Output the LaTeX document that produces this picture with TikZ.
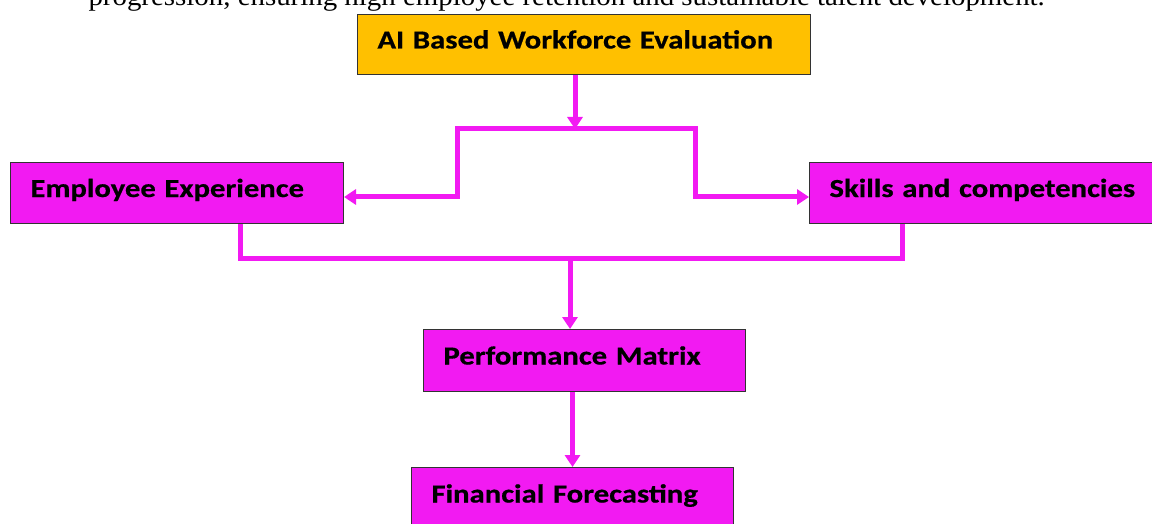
\documentclass[tikz,border=0pt]{standalone}
\usepackage{fontspec}
\setmainfont{Liberation Serif}[FakeStretch=1.07]
\newfontfamily\boxfont{Carlito}[FakeStretch=1.18,FakeBold=0.6]
\usetikzlibrary{arrows.meta}
\definecolor{gold}{RGB}{255,192,0}
\definecolor{pink}{RGB}{242,26,242}

\begin{document}
\begin{tikzpicture}[x=1pt,y=-1pt,
  box/.style={draw=black!80,line width=1pt,fill=pink,anchor=north west,
    inner xsep=20pt,inner ysep=0pt,align=left,text height=18pt,text depth=10pt,
    font=\boxfont\bfseries\fontsize{26}{30}\selectfont},
  flow/.style={draw=pink,line width=5pt},
  tip/.style={flow,-{Triangle[width=15pt,length=12pt]}}]
\useasboundingbox (0,0) rectangle (1152,524);

\node[anchor=base west,font=\fontsize{27}{32}\selectfont] (0) at (85,6)
  {progression, ensuring high employee retention and sustainable talent development.};

\node[box,fill=gold,text width=413pt,minimum height=60pt] (1) at (357,14) {AI Based Workforce Evaluation};
\node[box,text width=293pt,minimum height=61pt] (2) at (10,162) {Employee Experience};
\node[box,text width=306pt,minimum height=61pt] (3) at (809,162) {Skills and competencies};
\node[box,text width=282pt,minimum height=62pt] (4) at (423,329) {Performance Matrix};
\node[box,text width=282pt,minimum height=62pt] (5) at (411,467) {Financial Forecasting};

\coordinate (a) at (575,129);
\coordinate (b) at (457,197);
\coordinate (c) at (695,197);
\coordinate (d) at (240,258);
\coordinate (e) at (902,258);
\coordinate (f) at (570,258);

\draw[tip] (1.south -| a) -- (a);
\draw[tip] (a) -| (b) -- (2.east |- b);
\draw[tip] (a) -| (c) -- (3.west |- c);
\draw[flow] (2.south -| d) -- (d) -- (e) -- (3.south -| e);
\draw[tip] (f) -- (4.north -| f);
\draw[tip] (4.south -| 5.north) -- (5.north);
\end{tikzpicture}
\end{document}
